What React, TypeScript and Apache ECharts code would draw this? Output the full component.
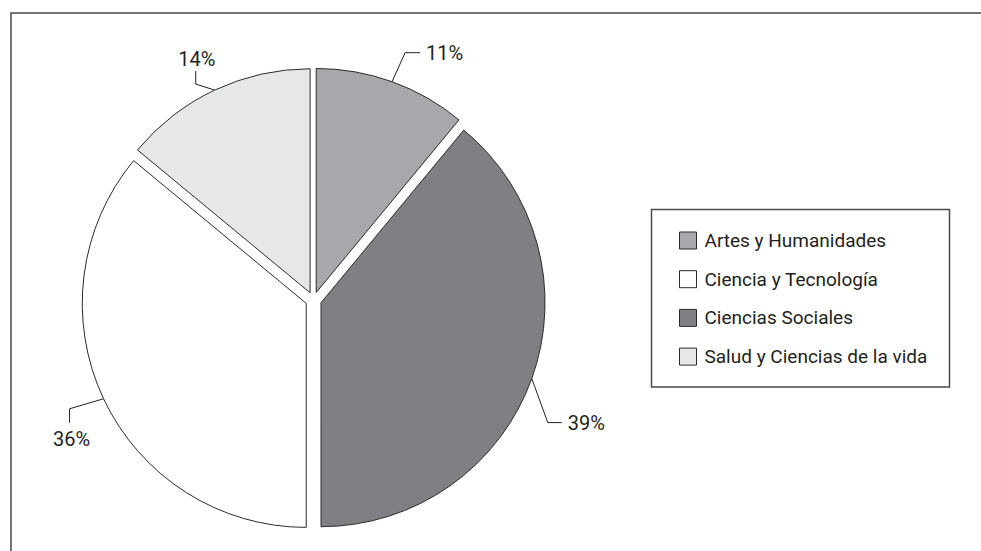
import React, { useEffect, useRef } from "react";
import * as echarts from "echarts";

// Slices in clockwise order from 12 o'clock
const categories = [
  "Artes y Humanidades",
  "Ciencias Sociales",
  "Ciencia y Tecnología",
  "Salud y Ciencias de la vida",
];
const values = [11, 39, 36, 14];
const legendOrder = [
  "Artes y Humanidades",
  "Ciencia y Tecnología",
  "Ciencias Sociales",
  "Salud y Ciencias de la vida",
];
const sliceColors = ["#a7a8ab", "#7f8084", "#ffffff", "#e6e7e8"];

// leader line shapes (style), per slice
const leaders = [
  { seg1: [13, -29], seg2: [15, 0], place: "right" },
  { seg1: [16, 44], seg2: [14, 0], place: "right" },
  { seg1: [-34, 10], seg2: [0, 14], place: "below" },
  { seg1: [-19, -6], seg2: [0, -13], place: "above" },
];

const FONT = "Roboto, 'Liberation Sans', sans-serif";
const INK = "#231f20";
const EDGE = "#2b2b2b";
const CENTER = [313.5, 300];
const RADIUS = 224;
const EXPLODE = 8;
const FS = 20;
const LEGEND_FS = 19;

function buildSeries() {
  const total = values.reduce((a, b) => a + b, 0);
  let acc = 0;
  return values.map((v, i) => {
    const mid = ((acc + v / 2) / total) * 2 * Math.PI;
    acc += v;
    const cx = CENTER[0] + EXPLODE * Math.sin(mid);
    const cy = CENTER[1] - EXPLODE * Math.cos(mid);
    return {
      type: "pie",
      center: [cx, cy],
      radius: RADIUS,
      startAngle: 90,
      clockwise: true,
      avoidLabelOverlap: false,
      silent: true,
      emphasis: { disabled: true },
      label: {
        show: true,
        position: "outside",
        formatter: "{c}%",
        fontFamily: FONT,
        fontSize: FS,
        lineHeight: FS,
        color: INK,
      },
      labelLine: {
        show: true,
        length: 20,
        length2: 14,
        lineStyle: { color: INK, width: 1 },
      },
      labelLayout: (params: any) => {
        const l = leaders[params.dataIndex];
        const pts = params.labelLinePoints;
        if (!pts || !l || params.dataIndex !== i) return {};
        const p0 = pts[0];
        const p1 = [p0[0] + l.seg1[0], p0[1] + l.seg1[1]];
        const p2 = [p1[0] + l.seg2[0], p1[1] + l.seg2[1]];
        const line = [p0, p1, p2];
        if (l.place === "right") {
          return { x: p2[0] + 6, y: p2[1], align: "left", verticalAlign: "middle", labelLinePoints: line };
        }
        if (l.place === "below") {
          return { x: p2[0] + 2, y: p2[1] + 6, align: "center", verticalAlign: "top", labelLinePoints: line };
        }
        return { x: p2[0] + 1, y: p2[1] - 2, align: "center", verticalAlign: "bottom", labelLinePoints: line };
      },
      data: categories.map((name, j) =>
        j === i
          ? {
              name,
              value: values[j],
              itemStyle: { color: sliceColors[j], borderColor: EDGE, borderWidth: 1 },
            }
          : {
              name,
              value: values[j],
              itemStyle: { color: "transparent", borderWidth: 0 },
              label: { show: false },
              labelLine: { show: false },
            }
      ),
    };
  });
}

export default function App() {
  const ref = useRef<HTMLDivElement>(null);
  useEffect(() => {
    if (!ref.current) return;
    const chart = echarts.init(ref.current, undefined, { renderer: "svg" });
    chart.setOption({
      animation: false,
      backgroundColor: "#ffffff",
      graphic: [
        {
          type: "rect",
          shape: { x: 11, y: 13, width: 1000, height: 600 },
          style: { fill: "none", stroke: "#4a4a4a", lineWidth: 1.5 },
          silent: true,
        },
        {
          type: "rect",
          shape: { x: 651.5, y: 209.5, width: 298, height: 177.5 },
          style: { fill: "none", stroke: "#4a4a4a", lineWidth: 1.5 },
          silent: true,
        },
      ],
      legend: {
        orient: "vertical",
        left: 674,
        top: 226,
        padding: 5,
        data: legendOrder.map((name) => ({
          name,
          itemStyle: {
            color: sliceColors[categories.indexOf(name)],
            borderColor: EDGE,
            borderWidth: 1,
            opacity: 1,
          },
        })),
        icon: "rect",
        itemWidth: 17,
        itemHeight: 17,
        itemGap: 19.7,
        selectedMode: false,
        textStyle: {
          fontFamily: FONT,
          fontSize: LEGEND_FS,
          lineHeight: LEGEND_FS,
          color: INK,
          padding: [0, 0, 0, 3],
        },
      },
      series: buildSeries(),
    });
    return () => chart.dispose();
  }, []);
  return (
    <div
      ref={ref}
      style={{ position: "absolute", left: 0, top: 0, width: 981, height: 551 }}
    />
  );
}
